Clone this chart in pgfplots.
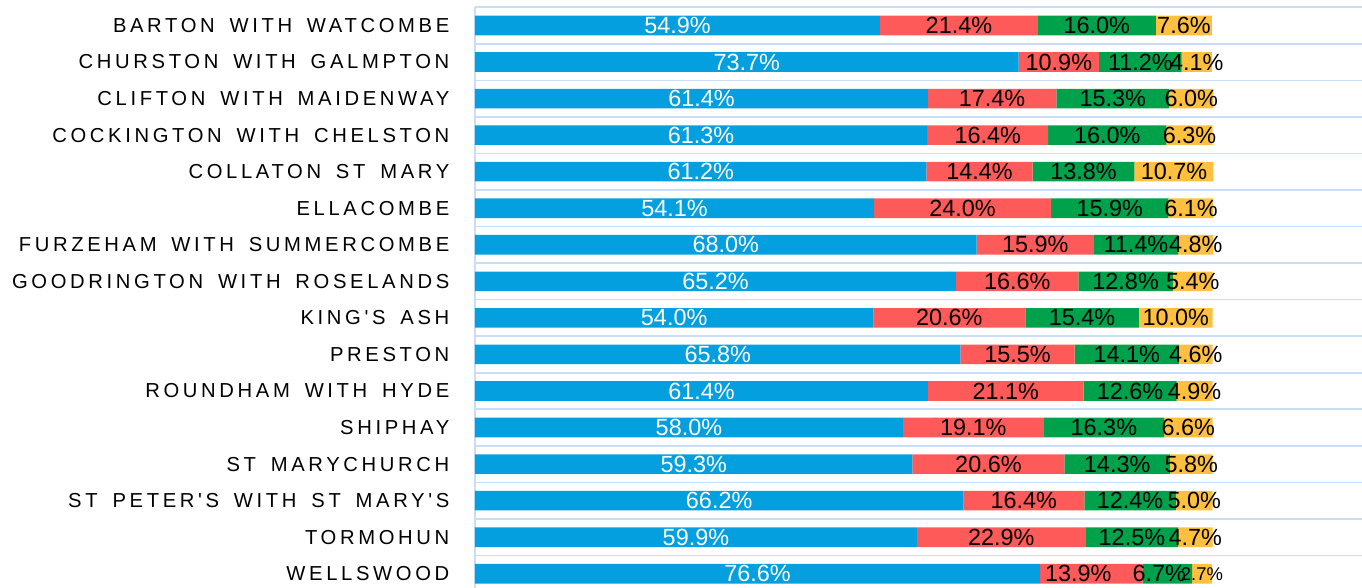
\documentclass[border=0pt]{standalone}
\usepackage{fontspec}
\setmainfont{Liberation Sans}
\newfontfamily\tickfam[LetterSpace=18,WordSpace=1.6]{Liberation Sans}
\usepackage{pgfplots}
\usepackage{pgfplotstable}
\pgfplotsset{compat=1.18}
\definecolor{cblue}{RGB}{3,159,222}
\definecolor{cred}{RGB}{255,90,90}
\definecolor{cgreen}{RGB}{0,161,75}
\definecolor{cyellow}{RGB}{255,192,64}
\definecolor{gridc}{RGB}{200,222,248}

\pgfplotstableread{
y v
1 54.9
2 73.7
3 61.4
4 61.3
5 61.2
6 54.1
7 68.0
8 65.2
9 54.0
10 65.8
11 61.4
12 58.0
13 59.3
14 66.2
15 59.9
16 76.6
}\tblA
\pgfplotstableread{
y v
1 21.4
2 10.9
3 17.4
4 16.4
5 14.4
6 24.0
7 15.9
8 16.6
9 20.6
10 15.5
11 21.1
12 19.1
13 20.6
14 16.4
15 22.9
16 13.9
}\tblB
\pgfplotstableread{
y v
1 16.0
2 11.2
3 15.3
4 16.0
5 13.8
6 15.9
7 11.4
8 12.8
9 15.4
10 14.1
11 12.6
12 16.3
13 14.3
14 12.4
15 12.5
16 6.7
}\tblC
\pgfplotstableread{
y v
1 7.6
2 4.1
3 6.0
4 6.3
5 10.7
6 6.1
7 4.8
8 5.4
9 10.0
10 4.6
11 4.9
12 6.6
13 5.8
14 5.0
15 4.7
16 2.7
}\tblD

\begin{document}
\begin{tikzpicture}
\begin{axis}[
  scale only axis,
  width=887bp, height=580.8bp,
  xbar stacked, bar width=19.6bp,
  xmin=0, xmax=120.24, ymin=0.5, ymax=16.39, y dir=reverse,
  axis line style={draw=none},
  xtick={0}, xticklabels={}, xmajorgrids,
  major x grid style={draw=gridc, line width=1.6bp},
  ytick={1,...,16},
  yticklabels={{BARTON WITH WATCOMBE},{CHURSTON WITH GALMPTON},{CLIFTON WITH MAIDENWAY},{COCKINGTON WITH CHELSTON},{COLLATON ST MARY},{ELLACOMBE},{FURZEHAM WITH SUMMERCOMBE},{GOODRINGTON WITH ROSELANDS},{KING'S ASH},{PRESTON},{ROUNDHAM WITH HYDE},{SHIPHAY},{ST MARYCHURCH},{ST PETER'S WITH ST MARY'S},{TORMOHUN},{WELLSWOOD}},
  minor ytick={0.5,1.5,...,15.5}, yminorgrids, ymajorgrids=false,
  minor y grid style={draw=gridc, line width=1.6bp},
  major tick length=0pt, minor tick length=0pt,
  yticklabel style={font=\tickfam\fontsize{20.3}{20.3}\selectfont, anchor=east, inner sep=0pt, xshift=-25.5bp, text=black},
  point meta=explicit symbolic,
  nodes near coords={\ifdim\pgfplotspointmeta pt<3pt\fontsize{18.5}{18.5}\selectfont\fi\ifdim\pgfplotspointmeta pt=13.9pt\kern-26bp\fi\ifdim\pgfplotspointmeta pt=6.7pt\kern-16bp\fi\pgfplotspointmeta\%},
  every node near coord/.append style={anchor=center, inner sep=0pt, font=\fontsize{23.5}{23.5}\selectfont, text=black},
  clip=false,
]
\addplot[fill=cblue, draw=none, every node near coord/.append style={text=white}] table[x=v, y=y, meta=v] {\tblA};
\addplot[fill=cred, draw=none] table[x=v, y=y, meta=v] {\tblB};
\addplot[fill=cgreen, draw=none] table[x=v, y=y, meta=v] {\tblC};
\addplot[fill=cyellow, draw=none] table[x=v, y=y, meta=v] {\tblD};
\end{axis}
\pgfresetboundingbox
\path[use as bounding box] ([xshift=-475bp]current axis.south west) rectangle ([yshift=7.2bp]current axis.north east);
\end{tikzpicture}
\end{document}
